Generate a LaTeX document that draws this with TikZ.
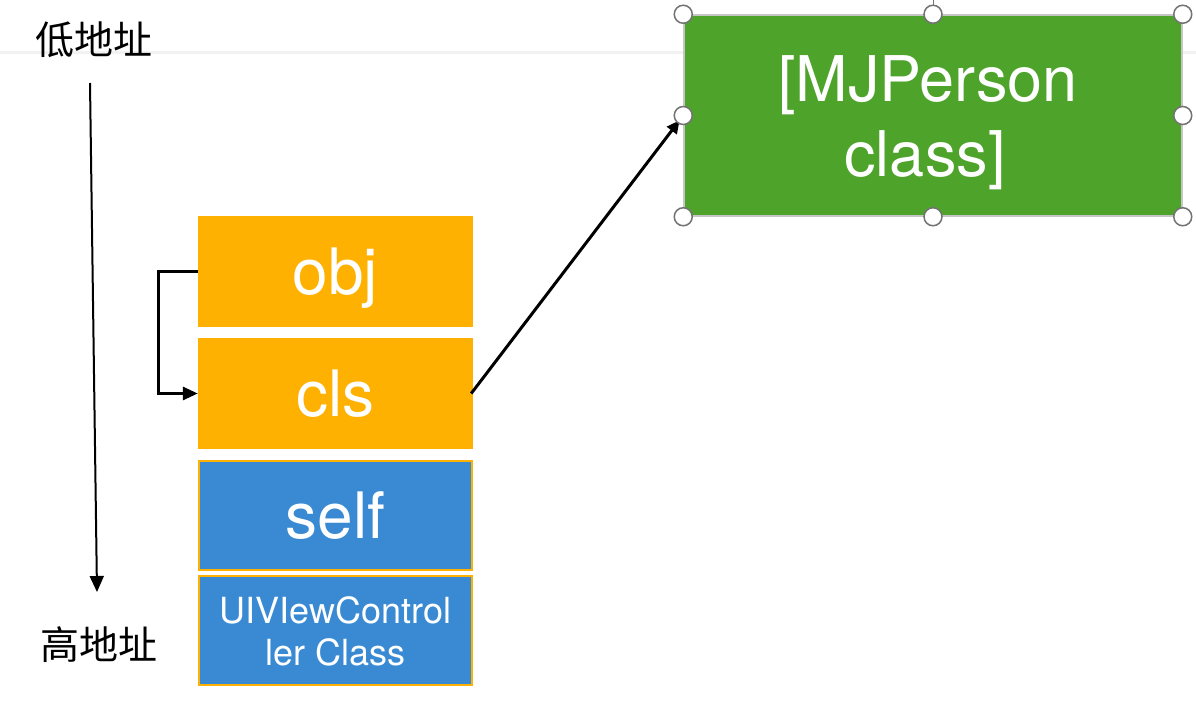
\documentclass[tikz,border=0pt]{standalone}
\usepackage{fontspec}
\setmainfont{TeX Gyre Heros}
\newfontfamily\cjk{Noto Sans CJK SC}
\usetikzlibrary{arrows.meta}
\definecolor{boxorange}{RGB}{254,177,0}
\definecolor{boxblue}{RGB}{57,138,211}
\definecolor{boxgreen}{RGB}{78,163,42}
\definecolor{handlegray}{RGB}{115,115,115}
\tikzset{
  stackbox/.style={draw=none, minimum width=275pt, minimum height=111pt, inner sep=0pt,
    text=white, font=\fontsize{64}{76}\selectfont, text height=46pt, text depth=0pt},
  orangebox/.style={stackbox, fill=boxorange},
  bluebox/.style={stackbox, fill=boxblue, draw=boxorange, line width=2pt, minimum width=273pt, minimum height=109pt},
  greenbox/.style={fill=boxgreen, draw=gray!45, line width=1.5pt, minimum width=498pt, minimum height=201pt, inner sep=0pt},
  boxtext/.style={text=white, anchor=base, inner sep=0pt},
  handle/.style={circle, fill=white, draw=handlegray, line width=1.5pt, minimum size=18pt, inner sep=0pt},
  cjklabel/.style={font=\cjk\fontsize{39}{44}\selectfont, inner sep=0pt},
  conn/.style={line width=3pt, -{Triangle[length=13pt,width=12pt]}},
}
\begin{document}
\begin{tikzpicture}[x=1pt,y=-1pt]
\useasboundingbox (0,0) rectangle (1196,706);
% faint screenshot band
\coordinate (bandL) at (0,53);
\coordinate (bandR) at (1196,53);
\draw[line width=3pt, color=black!5] (bandL) -- (bandR);

% address labels
\node[cjklabel] (low) at (94,40) {低地址};
\node[cjklabel] (high) at (99,645) {高地址};
\coordinate (vtop) at (90,83);
\coordinate (vbot) at (97,592);
\draw[line width=2pt, -{Triangle[length=16pt,width=14pt]}] (vtop) -- (vbot);

% stack boxes
\node[orangebox] (obj) at (335.5,271.5) {obj};
\node[orangebox] (cls) at (335.5,393.5) {cls};
\node[bluebox] (self) at (335.5,515.5) {self};
\node[bluebox] (uivc) at (335.5,630.5) {};
\node[boxtext, font=\fontsize{36}{42}\selectfont] (uivc1) at (335.5,623) {UIVIewControl};
\node[boxtext, font=\fontsize{36}{42}\selectfont] (uivc2) at (335.5,665) {ler Class};

% green class box
\node[greenbox] (mj) at (933,115.5) {};
\node[boxtext, font=\fontsize{63}{75}\selectfont] (mj1) at (928,101.5) {[MJPerson};
\node[boxtext, font=\fontsize{63}{75}\selectfont] (mj2) at (925,176.5) {class]};

% connectors
\coordinate (bendA) at (158,271.5);
\coordinate (bendB) at (158,393.5);
\draw[line width=3pt, -{Triangle[length=15pt,width=13pt]}] (obj.west) -- (bendA) -- (bendB) -- (cls.west);
\draw[conn, shorten >=6pt] ([xshift=-2pt]cls.east) -- (mj.west);

% selection handles
\coordinate (rot) at (933,0);
\draw[handlegray, line width=1pt] (mj.north) -- (rot);
\node[handle] (hnw) at (mj.north west) {};
\node[handle] (hn) at (mj.north) {};
\node[handle] (hne) at (mj.north east) {};
\node[handle] (hw) at (mj.west) {};
\node[handle] (he) at (mj.east) {};
\node[handle] (hsw) at (mj.south west) {};
\node[handle] (hs) at (mj.south) {};
\node[handle] (hse) at (mj.south east) {};
\end{tikzpicture}
\end{document}
